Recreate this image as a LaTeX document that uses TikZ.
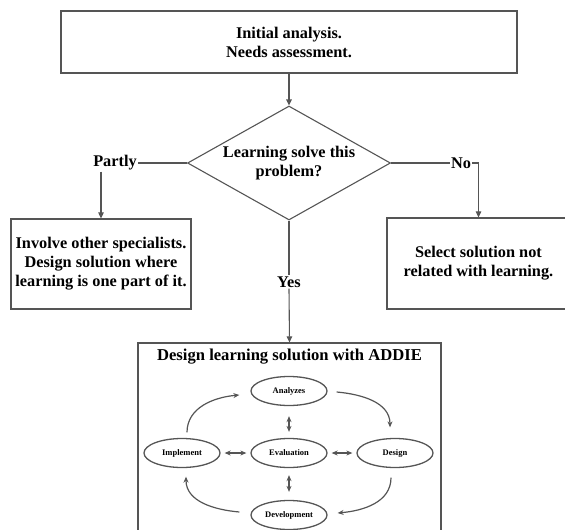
\documentclass[tikz,border=0pt]{standalone}
\usepackage{fontspec}
\setmainfont{Liberation Serif}
\usetikzlibrary{shapes.geometric,arrows.meta,calc}
\definecolor{linecol}{RGB}{85,85,85}
\begin{document}
\begin{tikzpicture}[x=1pt,y=-1pt,
  every node/.style={font=\bfseries},
  bigtext/.style={font=\fontsize{16.3}{19}\selectfont\bfseries, align=center},
  flowbox/.style={draw=linecol, line width=1.2pt, rectangle, inner sep=0pt, bigtext},
  decision/.style={draw=linecol, line width=1.1pt, diamond, shape aspect=1.78, inner sep=0pt,
                   minimum width=203pt, minimum height=114pt, bigtext},
  label/.style={bigtext, inner sep=1pt},
  flow/.style={draw=linecol, line width=1.1pt},
  flowarrow/.style={flow, -{Triangle[length=6pt,width=5.5pt]}},
  phase/.style={draw=linecol, line width=1.3pt, ellipse, minimum width=76pt, minimum height=29pt,
                inner sep=0pt, font=\fontsize{8.5}{10}\selectfont\bfseries},
  cycle/.style={draw=linecol, line width=1.2pt, -{Stealth[length=6pt,width=5pt]}},
  link/.style={draw=linecol, line width=1.2pt, {Stealth[length=6pt,width=5pt]}-{Stealth[length=6pt,width=5pt]}}
]
\useasboundingbox (0,0) rectangle (565,530);

% main flowchart
\node[flowbox, minimum width=456pt, minimum height=62pt] (start) at (289,42)
  {Initial analysis.\\Needs assessment.};
\node[decision] (ask) at (289,163) {Learning solve this\\problem?};
\node[label] (partly) at (115,163) {Partly};
\node[label] (no) at (461,163) {No};
\node[label] (yes) at (289,282) {Yes};
\node[flowbox, minimum width=180pt, minimum height=90pt] (other) at (101,264)
  {Involve other specialists.\\Design solution where\\learning is one part of it.};
\node[flowbox, minimum width=183pt, minimum height=91pt] (notlearn) at (478.5,263.5)
  {Select solution not\\related with learning.};

\draw[flowarrow] (start) -- (ask.north);
\draw[flow] (ask.west) -- (partly.east);
\draw[flowarrow] (partly.south -| other.north) -- (other.north);
\draw[flow] (ask.east) -- (no.west);
\draw[flowarrow] (no.east) -- (no.east -| notlearn.north) -- (notlearn.north);
\draw[flow] (ask.south) -- (yes.north);

% ADDIE panel
\node[draw=linecol, line width=1.2pt, rectangle, minimum width=303pt, minimum height=217pt, inner sep=0pt]
  (addie) at (289.5,451.5) {};
\node[font=\fontsize{16.6}{19}\selectfont\bfseries, anchor=north] (title) at ($(addie.north)+(0,3)$)
  {Design learning solution with ADDIE};
\draw[flowarrow] (yes.south) -- (addie.north);

\node[phase] (analyze) at (289,391) {Analyzes};
\node[phase] (evaluate) at (289,453) {Evaluation};
\node[phase] (implement) at (182,453) {Implement};
\node[phase] (design) at (395,453) {Design};
\node[phase] (develop) at (289,515) {Development};

\draw[link, shorten <=4pt, shorten >=4pt] (implement.east) -- (evaluate.west);
\draw[link, shorten <=4pt, shorten >=4pt] (evaluate.east) -- (design.west);
\draw[link, shorten <=10pt, shorten >=6pt] (analyze.south) -- (evaluate.north);
\draw[link, shorten <=7pt, shorten >=8pt] (evaluate.south) -- (develop.north);

\draw[cycle] ($(implement.north)+(5,-5.5)$) to[out=90,in=185] ($(analyze.west)+(-11,4)$);
\draw[cycle] ($(analyze.east)+(9,1)$) to[out=-5,in=90] ($(design.north)+(-5,-10.5)$);
\draw[cycle] ($(design.south)+(-4,9.5)$) to[out=-90,in=5] ($(develop.east)+(10,-2)$);
\draw[cycle] ($(develop.west)+(-11,-3)$) to[out=175,in=-90] ($(implement.south)+(4,8.5)$);
\end{tikzpicture}
\end{document}
